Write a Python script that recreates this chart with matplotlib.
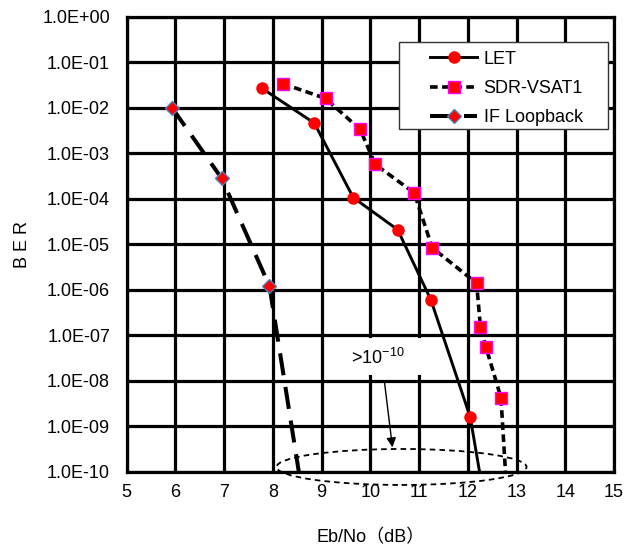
import matplotlib
matplotlib.use('Agg')
import matplotlib.pyplot as plt
from matplotlib.patches import Ellipse, Rectangle
from matplotlib.lines import Line2D

plt.rcParams['font.family'] = ['Liberation Sans', 'Noto Sans CJK JP', 'DejaVu Sans']
plt.rcParams['lines.scale_dashes'] = False

# LET measurement (last point lies below the axis, so only its line shows)
let_ebno = [7.77, 8.85, 9.65, 10.56, 11.24, 12.05, 12.40]
let_ber = [2.7e-2, 4.6e-3, 1.06e-4, 2.1e-5, 6.1e-7, 1.6e-9, 1e-11]

# SDR-VSAT1 measurement
sdr_ebno = [8.20, 9.08, 9.79, 10.10, 10.90, 11.27, 12.18, 12.26, 12.37, 12.68, 12.83]
sdr_ber = [3.4e-2, 1.6e-2, 3.35e-3, 5.7e-4, 1.35e-4, 8.4e-6, 1.4e-6, 1.5e-7, 5.6e-8, 4.3e-9, 1e-11]

# IF loopback measurement
if_ebno = [5.93, 6.95, 7.93, 8.68]
if_ber = [1.0e-2, 2.8e-4, 1.2e-6, 1e-11]

x_ticks = list(range(5, 16))
y_exps = list(range(0, -11, -1))
y_labels = ['1.0E%+03d' % e for e in y_exps]

fig = plt.figure(figsize=(6.38, 5.49), dpi=100)
ax = fig.add_axes([0.1986, 0.1403, 0.7638, 0.8293])

ax.plot(let_ebno, let_ber, '-', color='black', lw=2.1,
        marker='o', ms=8, mfc='red', mec='red', markevery=list(range(6)))
ax.plot(sdr_ebno, sdr_ber, color='black', lw=2.6, dashes=(5.5, 3.2),
        marker='s', ms=9, mfc='red', mec='#ff00ff', mew=1.0, markevery=list(range(10)))
ax.plot(if_ebno, if_ber, color='black', lw=2.9, dashes=(16, 8.5),
        marker='D', ms=7, mfc='red', mec='#4f81bd', mew=1.0, markevery=list(range(3)))

ax.set_yscale('log')
ax.set_xlim(5, 15)
ax.set_ylim(1e-10, 1)
ax.set_xticks(x_ticks)
ax.set_yticks([10.0 ** e for e in y_exps])
ax.set_yticklabels(y_labels)
ax.minorticks_off()
ax.tick_params(length=0, labelsize=13)
ax.tick_params(axis='y', pad=12)
ax.tick_params(axis='x', pad=9)
ax.grid(True, color='black', lw=2.3)
ax.set_axisbelow(True)
for s in ax.spines.values():
    s.set_linewidth(2.3)
    s.set_color('black')

ax.set_xlabel('Eb/No（dB）', fontsize=13, labelpad=20)
ax.set_ylabel('B E R', fontsize=13, labelpad=8)

# annotation: the region below 1e-10
ax.add_patch(Rectangle((9.2, 10 ** -7.88), 2.2, 10 ** -7.05 - 10 ** -7.88,
                       facecolor='white', edgecolor='none', zorder=1))
ax.text(10.16, 10 ** -7.5, r'>10$^{\mathregular{-10}}$', fontsize=13, ha='center', va='center')
ax.annotate('', xy=(10.46, 10 ** -9.52), xytext=(10.28, 10 ** -7.94),
            arrowprops=dict(arrowstyle='-|>', color='black', lw=1.0, mutation_scale=14))
ell = Ellipse((0.564, 0.011), 0.513, 0.079, transform=ax.transAxes, fill=False,
              edgecolor='black', lw=1.3, linestyle=(0, (4, 3)), clip_on=False, zorder=5)
ax.add_patch(ell)

# legend: own white box, entries placed inside it
ax.add_patch(Rectangle((0.559, 0.753), 0.428, 0.191, transform=ax.transAxes,
                       facecolor='white', edgecolor='#333333', lw=1.0, zorder=4.5))
handles = [
    Line2D([], [], color='black', lw=2.1, marker='o', ms=8, mfc='red', mec='red'),
    Line2D([], [], color='black', lw=2.6, dashes=(5.5, 3.2), marker='s', ms=9,
           mfc='red', mec='#ff00ff'),
    Line2D([], [], color='black', lw=2.9, dashes=(16, 8.5), marker='D', ms=7,
           mfc='red', mec='#4f81bd'),
]
leg = ax.legend(handles, ['LET', 'SDR-VSAT1', 'IF Loopback'], loc='upper left',
                bbox_to_anchor=(0.612, 0.937), fontsize=13, frameon=False,
                handlelength=2.6, labelspacing=0.68, borderpad=0.3,
                handletextpad=0.35, borderaxespad=0)
leg.set_zorder(5)

fig.savefig('out.png', dpi=100)
